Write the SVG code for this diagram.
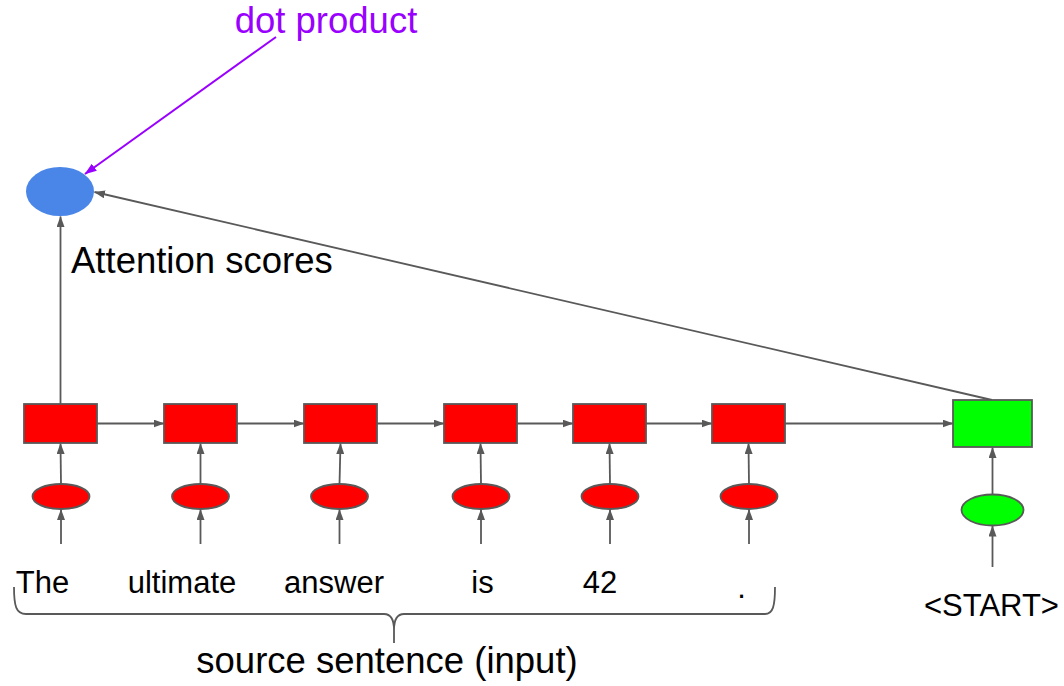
<svg xmlns="http://www.w3.org/2000/svg" width="1064" height="686" viewBox="0 0 1064 686">
<style>
.box{stroke:#595959;stroke-width:1.8}
.red{fill:#ff0000}
.green{fill:#00ff00}
.conn{stroke:#595959;stroke-width:1.8;fill:none}
.txt{font-family:"Liberation Sans",Arial,sans-serif;fill:#000}
</style>
<defs>
<marker id="ah" viewBox="0 0 11 8" refX="10.5" refY="4" markerWidth="11" markerHeight="8" markerUnits="userSpaceOnUse" orient="auto">
<path d="M0,0 L11,4 L0,8 z" fill="#595959"/>
</marker>
<marker id="ahp" viewBox="0 0 11 8" refX="10.5" refY="4" markerWidth="12" markerHeight="9" markerUnits="userSpaceOnUse" orient="auto">
<path d="M0,0 L11,4 L0,8 z" fill="#9900ff"/>
</marker>
</defs>
<rect width="1064" height="686" fill="#ffffff"/>
<g id="connectors">
<line class="conn" x1="97" y1="423.5" x2="164" y2="423.5" marker-end="url(#ah)"/>
<line class="conn" x1="237" y1="423.5" x2="304" y2="423.5" marker-end="url(#ah)"/>
<line class="conn" x1="377" y1="423.5" x2="444" y2="423.5" marker-end="url(#ah)"/>
<line class="conn" x1="517" y1="423.5" x2="573" y2="423.5" marker-end="url(#ah)"/>
<line class="conn" x1="646" y1="423.5" x2="712" y2="423.5" marker-end="url(#ah)"/>
<line class="conn" x1="785" y1="423.5" x2="953" y2="423.5" marker-end="url(#ah)"/>
<line class="conn" x1="61" y1="484" x2="60.5" y2="443.5" marker-end="url(#ah)"/>
<line class="conn" x1="200.5" y1="484" x2="200.5" y2="443.5" marker-end="url(#ah)"/>
<line class="conn" x1="339.5" y1="484" x2="340.5" y2="443.5" marker-end="url(#ah)"/>
<line class="conn" x1="481" y1="484" x2="480.5" y2="443.5" marker-end="url(#ah)"/>
<line class="conn" x1="610" y1="484" x2="609.5" y2="443.5" marker-end="url(#ah)"/>
<line class="conn" x1="749" y1="484" x2="748.5" y2="443.5" marker-end="url(#ah)"/>
<line class="conn" x1="61" y1="544" x2="61" y2="509.5" marker-end="url(#ah)"/>
<line class="conn" x1="200.5" y1="544" x2="200.5" y2="509.5" marker-end="url(#ah)"/>
<line class="conn" x1="339.5" y1="544" x2="339.5" y2="509.5" marker-end="url(#ah)"/>
<line class="conn" x1="481" y1="544" x2="481" y2="509.5" marker-end="url(#ah)"/>
<line class="conn" x1="610" y1="544" x2="610" y2="509.5" marker-end="url(#ah)"/>
<line class="conn" x1="749" y1="544" x2="749" y2="509.5" marker-end="url(#ah)"/>
<line class="conn" x1="992.5" y1="494.5" x2="992.5" y2="447.5" marker-end="url(#ah)"/>
<line class="conn" x1="992.5" y1="567" x2="992.5" y2="526" marker-end="url(#ah)"/>
<line class="conn" x1="60.5" y1="404" x2="60.5" y2="216.5" marker-end="url(#ah)"/>
<line class="conn" x1="992" y1="400" x2="94.5" y2="192" marker-end="url(#ah)"/>
<line x1="276" y1="37" x2="85" y2="174" stroke="#9900ff" stroke-width="2" marker-end="url(#ahp)"/>
<path class="conn" d="M14,587 C14,606 16,614 26,614 L384,614 C391,614 394,620 394,630 L394,643 M394,630 C394,620 397,614 404,614 L765,614 C773,614 775,606 775,587"/>
</g>
<g id="dot">
<ellipse cx="60" cy="191.5" rx="34" ry="24.5" fill="#4a86e8"/>
</g>
<g id="enc1"><rect class="box red" x="24" y="404" width="73" height="39"/></g>
<g id="enc2"><rect class="box red" x="164" y="404" width="73" height="39"/></g>
<g id="enc3"><rect class="box red" x="304" y="404" width="73" height="39"/></g>
<g id="enc4"><rect class="box red" x="444" y="404" width="73" height="39"/></g>
<g id="enc5"><rect class="box red" x="573" y="404" width="73" height="39"/></g>
<g id="enc6"><rect class="box red" x="712" y="404" width="73" height="39"/></g>
<g id="dec"><rect class="box green" x="953" y="400" width="79" height="47"/></g>
<g id="emb1"><ellipse class="box red" cx="61" cy="496.5" rx="28.5" ry="12.5"/></g>
<g id="emb2"><ellipse class="box red" cx="200.5" cy="496.5" rx="28.5" ry="12.5"/></g>
<g id="emb3"><ellipse class="box red" cx="339.5" cy="496.5" rx="28.5" ry="12.5"/></g>
<g id="emb4"><ellipse class="box red" cx="481" cy="496.5" rx="28.5" ry="12.5"/></g>
<g id="emb5"><ellipse class="box red" cx="610" cy="496.5" rx="28.5" ry="12.5"/></g>
<g id="emb6"><ellipse class="box red" cx="749" cy="496.5" rx="28.5" ry="12.5"/></g>
<g id="embdec"><ellipse class="box green" cx="992.5" cy="510" rx="31" ry="15.5"/></g>
<g id="labels">
<text class="txt" x="326" y="33" font-size="36.5" text-anchor="middle" style="fill:#9900ff">dot product</text>
<text class="txt" x="71" y="273" font-size="36.5">Attention scores</text>
<text class="txt" x="42.5" y="592.5" font-size="31" text-anchor="middle">The</text>
<text class="txt" x="182" y="592.5" font-size="31" text-anchor="middle">ultimate</text>
<text class="txt" x="334" y="592.5" font-size="31" text-anchor="middle">answer</text>
<text class="txt" x="482.5" y="592.5" font-size="31" text-anchor="middle">is</text>
<text class="txt" x="600" y="592.5" font-size="31" text-anchor="middle">42</text>
<text class="txt" x="741.5" y="598" font-size="31" text-anchor="middle">.</text>
<text class="txt" x="991.5" y="616" font-size="31" text-anchor="middle">&lt;START&gt;</text>
<text class="txt" x="387" y="673" font-size="36.5" text-anchor="middle">source sentence (input)</text>
</g>
</svg>
